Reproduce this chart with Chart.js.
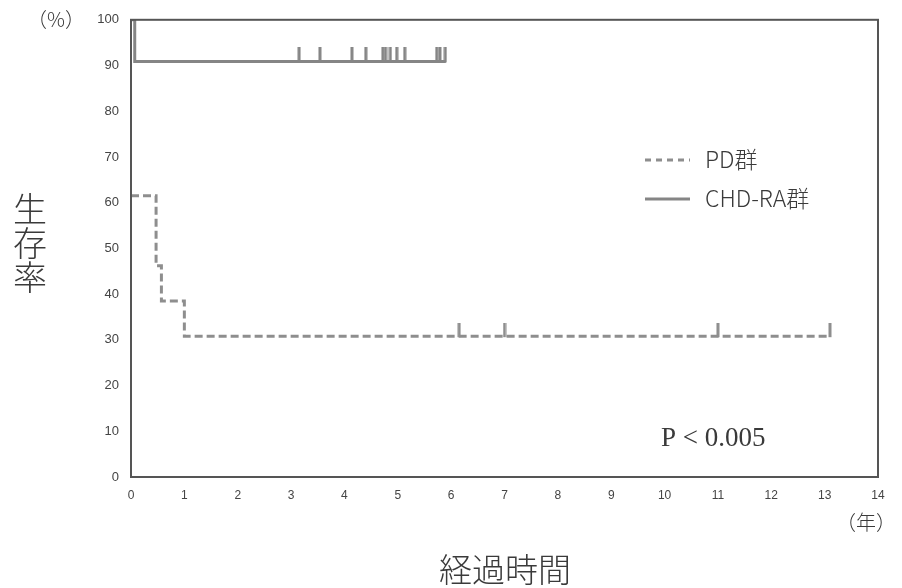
<!DOCTYPE html>
<html><head><meta charset="utf-8">
<script src="https://cdn.jsdelivr.net/npm/chart.js@4/dist/chart.umd.min.js"></script>
<style>html,body{margin:0;padding:0;background:#fff}#wrap{width:902px;height:588px;position:relative}</style>
</head><body><div id="wrap"><canvas id="c" width="902" height="588"></canvas></div>
<script>
// ---- data ----
const xTicks = [0,1,2,3,4,5,6,7,8,9,10,11,12,13,14];
const yTicks = [0,10,20,30,40,50,60,70,80,90,100];
const seriesNames = ['PD群', 'CHD-RA群'];
// PD group: step times and survival (%)
const pdTimes = [0, 0.47, 0.57, 1.0];
const pdSurv  = [61.5, 46.2, 38.5, 30.8];
const pdEnd   = 13.1;
const pdCensor = [6.15, 7.0, 11.0, 13.1];
// CHD-RA group
const chdTimes = [0, 0.07];
const chdSurv  = [100, 90.9];
const chdEnd   = 5.9;
const chdCensor = [3.15, 3.54, 4.14, 4.40, 4.72, 4.77, 4.86, 4.98, 5.13, 5.73, 5.79, 5.89];
const pText = 'P < 0.005';

function stepPoints(times, surv, end){
  const pts = times.map((t,i)=>({x:t, y:surv[i]}));
  pts.push({x:end, y:surv[surv.length-1]});
  return pts;
}
function survAt(times, surv, t){
  let s = surv[0];
  for(let i=0;i<times.length;i++){ if(times[i]<=t) s = surv[i]; }
  return s;
}
function censorPoints(times, surv, cens){
  return cens.map(t=>({x:t, y:survAt(times, surv, t)}));
}
function tickImage(color, len){
  const cv = document.createElement('canvas');
  cv.width = 4; cv.height = len*2;
  const g = cv.getContext('2d');
  g.fillStyle = color;
  g.fillRect(0.5, 0, 3, len+1);
  return cv;
}
const pdColor = '#8e8e8e', chdColor = '#858585', ink = '#3a3a3a';
const pdTick = tickImage(pdColor, 13);
const chdTick = tickImage(chdColor, 14);

const framePlugin = {
  id:'frame',
  afterDraw(chart){
    const {ctx, chartArea:a} = chart;
    ctx.save();
    ctx.strokeStyle = '#555'; ctx.lineWidth = 2;
    ctx.strokeRect(a.left, a.top, a.right-a.left, a.bottom-a.top);
    // texts
    ctx.fillStyle = ink;
    ctx.textBaseline = 'alphabetic';
    ctx.font = '300 20px "Noto Sans CJK JP"';
    ctx.textAlign = 'left';
    ctx.fillText('（%）', 27, 27);
    ctx.fillText('（年）', 836, 530);
    ctx.font = '300 34px "Noto Sans CJK JP"';
    ctx.textAlign = 'center';
    ctx.fillText('生', 30, 222);
    ctx.fillText('存', 30, 256);
    ctx.fillText('率', 30, 290);
    ctx.font = '300 33px "Noto Sans CJK JP"';
    ctx.fillText('経過時間', 505, 582);
    // legend
    ctx.textAlign = 'left';
    ctx.font = '300 23px "Noto Sans CJK JP"';
    ctx.lineWidth = 3;
    ctx.strokeStyle = pdColor; ctx.setLineDash([6,5]);
    ctx.beginPath(); ctx.moveTo(645,160); ctx.lineTo(690,160); ctx.stroke();
    ctx.setLineDash([]);
    ctx.strokeStyle = chdColor;
    ctx.beginPath(); ctx.moveTo(645,199); ctx.lineTo(690,199); ctx.stroke();
    ctx.fillText(seriesNames[0], 705, 168);
    ctx.fillText(seriesNames[1], 705, 207);
    // p value
    ctx.font = '27px "Liberation Serif"';
    ctx.fillText(pText, 661, 446);
    ctx.restore();
  }
};

const tickFont = '"Liberation Sans", Arial, sans-serif';
new Chart(document.getElementById('c'), {
  type:'line',
  data:{datasets:[
    {label:seriesNames[0], data:stepPoints(pdTimes,pdSurv,pdEnd), stepped:'before', borderColor:pdColor, borderWidth:3, borderDash:[8,4], pointRadius:0, fill:false},
    {label:seriesNames[1], data:stepPoints(chdTimes,chdSurv,chdEnd), stepped:'before', borderColor:chdColor, borderWidth:3, pointRadius:0, fill:false},
    {label:'pdc', data:censorPoints(pdTimes,pdSurv,pdCensor), showLine:false, pointStyle:pdTick, pointRadius:7},
    {label:'chdc', data:censorPoints(chdTimes,chdSurv,chdCensor), showLine:false, pointStyle:chdTick, pointRadius:7}
  ]},
  options:{
    responsive:false, animation:false, devicePixelRatio:1,
    layout:{padding:{top:19,right:24,left:0,bottom:0}},
    plugins:{legend:{display:false}, tooltip:{enabled:false}},
    scales:{
      x:{type:'linear', min:0, max:14,
        afterBuildTicks(s){ s.ticks = xTicks.map(v=>({value:v})); },
        afterFit(s){ s.height = 111; },
        grid:{display:false, drawTicks:false}, border:{display:false},
        ticks:{padding:11, color:'#444', font:{family:tickFont, size:12}}},
      y:{min:0, max:100,
        afterBuildTicks(s){ s.ticks = yTicks.map(v=>({value:v})); },
        afterFit(s){ s.width = 131; },
        grid:{display:false, drawTicks:false}, border:{display:false},
        ticks:{padding:12, color:'#444', font:{family:tickFont, size:13}}}
    }
  },
  plugins:[framePlugin]
});
</script></body></html>
